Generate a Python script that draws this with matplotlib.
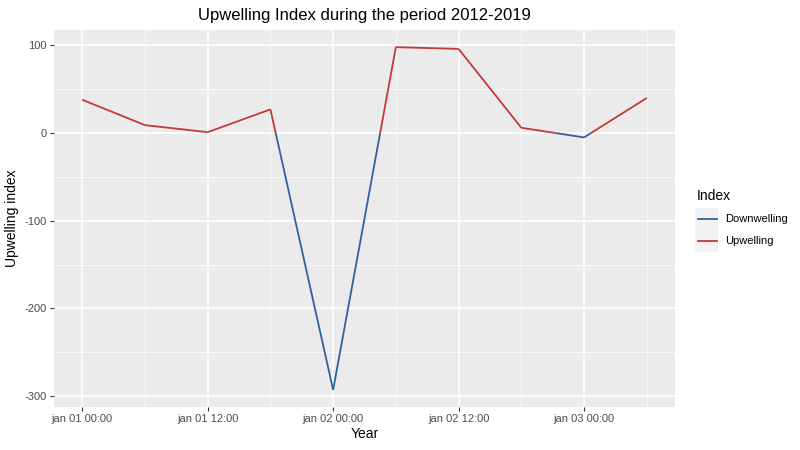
import numpy as np
import matplotlib
matplotlib.use("Agg")
import matplotlib.pyplot as plt
from matplotlib.lines import Line2D
from matplotlib.patches import Rectangle
from matplotlib.ticker import MultipleLocator, FixedLocator

# Data
hours = [0, 6, 12, 18, 24, 30, 36, 42, 48, 54]   # hours since jan 01 00:00
index_values = [38, 9, 1, 27, -293, 98, 96, 6, -5, 40]
major_hours = [0, 12, 24, 36, 48]
major_labels = ["jan 01 00:00", "jan 01 12:00", "jan 02 00:00", "jan 02 12:00", "jan 03 00:00"]
minor_hours = [6, 18, 30, 42, 54]
y_ticks = [100, 0, -100, -200, -300]
legend_labels = ["Downwelling", "Upwelling"]

col_down = "#2F62A0"
col_up = "#C23A3A"
panel_bg = "#EBEBEB"
W, H = 800, 450

plt.rcParams['font.family'] = ['Liberation Sans', 'DejaVu Sans']
plt.rcParams['axes.unicode_minus'] = False

fig = plt.figure(figsize=(8, 4.5), dpi=100)
ax = fig.add_axes([54/W, 1 - 407/H, (675-54)/W, (407-30)/H])
ax.set_facecolor(panel_bg)
for s in ax.spines.values():
    s.set_visible(False)

# split line at zero crossings
x = np.array(hours, dtype=float)
y = np.array(index_values, dtype=float)
for i in range(len(x) - 1):
    x0, x1, y0, y1 = x[i], x[i+1], y[i], y[i+1]
    if (y0 >= 0) == (y1 >= 0):
        c = col_up if (y0 + y1) / 2 >= 0 else col_down
        ax.plot([x0, x1], [y0, y1], color=c, lw=1.3, solid_capstyle='butt', zorder=3)
    else:
        xc = x0 + (0 - y0) * (x1 - x0) / (y1 - y0)
        ax.plot([x0, xc], [y0, 0], color=col_up if y0 >= 0 else col_down, lw=1.3,
                solid_capstyle='butt', zorder=3)
        ax.plot([xc, x1], [0, y1], color=col_up if y1 >= 0 else col_down, lw=1.3,
                solid_capstyle='butt', zorder=3)

# limits with ggplot-like expansion
xr = x.max() - x.min()
ax.set_xlim(x.min() - 0.05 * xr, x.max() + 0.05 * xr)
yr = y.max() - y.min()
ax.set_ylim(y.min() - 0.05 * yr, y.max() + 0.05 * yr)

ax.xaxis.set_major_locator(FixedLocator(major_hours))
ax.set_xticklabels(major_labels)
ax.xaxis.set_minor_locator(FixedLocator(minor_hours))
ax.yaxis.set_major_locator(FixedLocator(y_ticks))
ax.yaxis.set_minor_locator(MultipleLocator(50))

ax.grid(which='major', color='white', lw=1.1, zorder=0)
ax.grid(which='minor', color='white', lw=0.5, zorder=0)
ax.set_axisbelow(True)

ax.tick_params(which='major', length=3, width=0.8, color='#333333',
               labelsize=8, labelcolor='#4D4D4D', pad=2)
ax.tick_params(which='minor', length=0)

ax.set_xlabel("Year", fontsize=10, color='black', labelpad=2)
ax.set_ylabel("Upwelling index", fontsize=10, color='black', labelpad=4)
ax.set_title("Upwelling Index during the period 2012-2019", fontsize=12, pad=7)

# legend (ggplot-style, drawn in figure pixel space)
fig.text(697/W, 1 - 196/H, "Index", fontsize=10, ha='left', va='center')
key_colors = [col_down, col_up]
key_y = [219, 241]
for lab, c, ky in zip(legend_labels, key_colors, key_y):
    fig.add_artist(Rectangle((695/W, 1 - (ky + 11)/H), 23/W, 22/H,
                             transform=fig.transFigure, facecolor='#F2F2F2',
                             edgecolor='none'))
    fig.add_artist(Line2D([698/W, 717/W], [1 - ky/H, 1 - ky/H],
                          transform=fig.transFigure, color=c, lw=1.3))
    fig.text(725/W, 1 - ky/H, lab, fontsize=8, ha='left', va='center')

fig.savefig("out.png", dpi=100)
